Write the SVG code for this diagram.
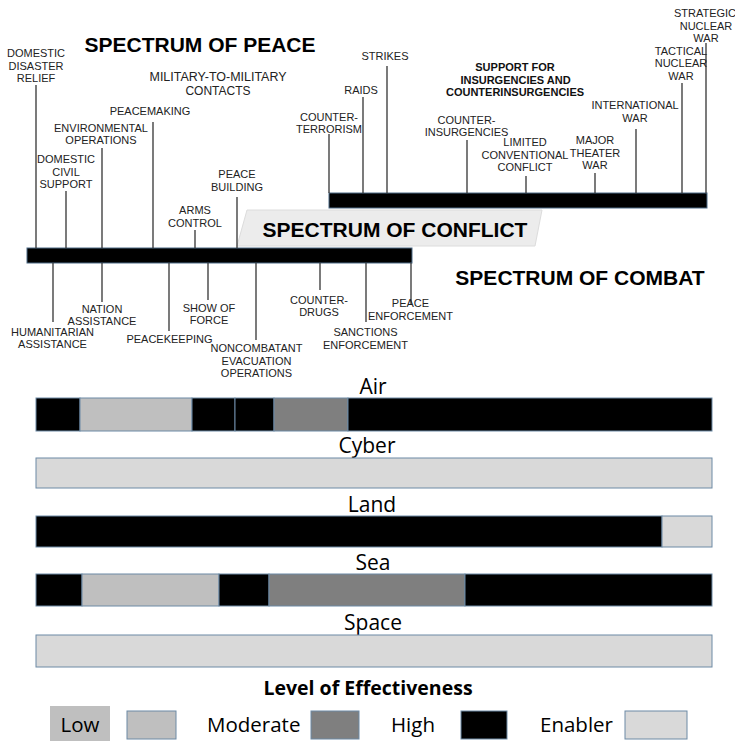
<svg xmlns="http://www.w3.org/2000/svg" width="735" height="741" viewBox="0 0 735 741">
<style>
  .lbl{font-family:"Liberation Sans",Arial,sans-serif;font-size:11px;fill:#222;text-anchor:middle}
  .blbl{font-family:"Liberation Sans",Arial,sans-serif;font-size:11px;font-weight:bold;fill:#111;text-anchor:middle}
  .title{font-family:"Liberation Sans",Arial,sans-serif;font-size:21px;font-weight:bold;fill:#000;text-anchor:middle}
  .tick{stroke:#333;stroke-width:1.3;fill:none}
  .dom{font-family:"Open Sans","Noto Sans",sans-serif;font-size:21px;fill:#000;text-anchor:middle}
  .leg{font-family:"Open Sans","Noto Sans",sans-serif;font-size:20.5px;fill:#000}
  .seg{stroke:#6d8aa5;stroke-width:1}
  .hi{fill:#000}.mod{fill:#7f7f7f}.low{fill:#bfbfbf}.en{fill:#d9d9d9}
</style>
<rect width="735" height="741" fill="#fff"/>

<!-- titles -->
<g id="title-peace"><text class="title" x="200" y="52">SPECTRUM OF PEACE</text></g>
<g id="title-combat"><text class="title" x="580" y="285">SPECTRUM OF COMBAT</text></g>
<g id="title-conflict">
  <polygon points="247,210 542,210 535,246 237,246" fill="#ececec" stroke="#dcdcdc" stroke-width="1"/>
  <text class="title" x="395" y="237">SPECTRUM OF CONFLICT</text>
</g>

<!-- bars -->
<g id="peace-bar"><rect x="27" y="248" width="385" height="15" fill="#000" stroke="#4d6a86" stroke-width="1"/></g>
<g id="conflict-bar"><rect x="329" y="193" width="378" height="15" fill="#000" stroke="#4d6a86" stroke-width="1"/></g>

<!-- connectors -->
<g id="connectors" class="tick">
  <line x1="36" y1="85" x2="36" y2="248"/>
  <line x1="66" y1="191" x2="66" y2="248"/>
  <line x1="102" y1="148" x2="102" y2="248"/>
  <line x1="153" y1="122" x2="153" y2="248"/>
  <line x1="195" y1="230" x2="195" y2="248"/>
  <line x1="237" y1="197" x2="237" y2="248"/>
  <line x1="53" y1="263" x2="53" y2="322"/>
  <line x1="102" y1="263" x2="102" y2="302"/>
  <line x1="169" y1="263" x2="169" y2="331"/>
  <line x1="208" y1="263" x2="208" y2="300"/>
  <line x1="256" y1="263" x2="256" y2="340"/>
  <line x1="320" y1="263" x2="320" y2="290"/>
  <line x1="366" y1="263" x2="366" y2="322"/>
  <line x1="411" y1="263" x2="411" y2="305"/>
  <line x1="329" y1="134" x2="329" y2="193"/>
  <line x1="363" y1="97" x2="363" y2="193"/>
  <line x1="387" y1="66" x2="387" y2="193"/>
  <line x1="467" y1="140" x2="467" y2="193"/>
  <line x1="526" y1="176" x2="526" y2="193"/>
  <line x1="595" y1="173" x2="595" y2="193"/>
  <line x1="636" y1="129" x2="636" y2="193"/>
  <line x1="682" y1="83" x2="682" y2="193"/>
  <line x1="706" y1="43" x2="706" y2="193"/>
</g>

<!-- peace labels above -->
<g id="domestic-disaster-relief"><text class="lbl" x="36" y="57">DOMESTIC</text><text class="lbl" x="36" y="69.5">DISASTER</text><text class="lbl" x="36" y="82">RELIEF</text></g>
<g id="mil-to-mil"><text class="lbl" x="218" y="80.5" textLength="137" lengthAdjust="spacingAndGlyphs" style="font-size:12px">MILITARY-TO-MILITARY</text><text class="lbl" x="218" y="94.5" style="font-size:12px">CONTACTS</text></g>
<g id="peacemaking"><text class="lbl" x="150" y="115">PEACEMAKING</text></g>
<g id="environmental-operations"><text class="lbl" x="101" y="132">ENVIRONMENTAL</text><text class="lbl" x="101" y="144">OPERATIONS</text></g>
<g id="domestic-civil-support"><text class="lbl" x="66" y="163">DOMESTIC</text><text class="lbl" x="66" y="176">CIVIL</text><text class="lbl" x="66" y="188">SUPPORT</text></g>
<g id="peace-building"><text class="lbl" x="237" y="178">PEACE</text><text class="lbl" x="237" y="191">BUILDING</text></g>
<g id="arms-control"><text class="lbl" x="195" y="214">ARMS</text><text class="lbl" x="195" y="227">CONTROL</text></g>

<!-- peace labels below -->
<g id="humanitarian-assistance"><text class="lbl" x="52.5" y="336">HUMANITARIAN</text><text class="lbl" x="52.5" y="348">ASSISTANCE</text></g>
<g id="nation-assistance"><text class="lbl" x="102" y="313">NATION</text><text class="lbl" x="102" y="325">ASSISTANCE</text></g>
<g id="peacekeeping"><text class="lbl" x="169.5" y="343">PEACEKEEPING</text></g>
<g id="show-of-force"><text class="lbl" x="209" y="312">SHOW OF</text><text class="lbl" x="209" y="324">FORCE</text></g>
<g id="noncombatant-evacuation"><text class="lbl" x="256.5" y="352">NONCOMBATANT</text><text class="lbl" x="256.5" y="364.5">EVACUATION</text><text class="lbl" x="256.5" y="377">OPERATIONS</text></g>
<g id="counter-drugs"><text class="lbl" x="319" y="304">COUNTER-</text><text class="lbl" x="319" y="316">DRUGS</text></g>
<g id="sanctions-enforcement"><text class="lbl" x="365.5" y="336">SANCTIONS</text><text class="lbl" x="365.5" y="349">ENFORCEMENT</text></g>
<g id="peace-enforcement"><text class="lbl" x="410.5" y="307">PEACE</text><text class="lbl" x="410.5" y="320">ENFORCEMENT</text></g>

<!-- conflict labels -->
<g id="counter-terrorism"><text class="lbl" x="329" y="121">COUNTER-</text><text class="lbl" x="329" y="133">TERRORISM</text></g>
<g id="raids"><text class="lbl" x="361" y="94">RAIDS</text></g>
<g id="strikes"><text class="lbl" x="385" y="60">STRIKES</text></g>
<g id="support-insurgencies"><text class="blbl" x="515" y="71">SUPPORT FOR</text><text class="blbl" x="515.5" y="83.5">INSURGENCIES AND</text><text class="blbl" x="515" y="96">COUNTERINSURGENCIES</text></g>
<g id="counter-insurgencies"><text class="lbl" x="466.5" y="124">COUNTER-</text><text class="lbl" x="466.5" y="136">INSURGENCIES</text></g>
<g id="limited-conventional-conflict"><text class="lbl" x="525" y="146">LIMITED</text><text class="lbl" x="525" y="159">CONVENTIONAL</text><text class="lbl" x="525" y="171">CONFLICT</text></g>
<g id="major-theater-war"><text class="lbl" x="595" y="144">MAJOR</text><text class="lbl" x="595" y="157">THEATER</text><text class="lbl" x="595" y="169">WAR</text></g>
<g id="international-war"><text class="lbl" x="635" y="109">INTERNATIONAL</text><text class="lbl" x="635" y="122">WAR</text></g>
<g id="tactical-nuclear-war"><text class="lbl" x="681" y="55">TACTICAL</text><text class="lbl" x="681" y="67">NUCLEAR</text><text class="lbl" x="681" y="80">WAR</text></g>
<g id="strategic-nuclear-war"><text class="lbl" x="705" y="17">STRATEGIC</text><text class="lbl" x="706" y="30">NUCLEAR</text><text class="lbl" x="706" y="42">WAR</text></g>

<!-- domain bars -->
<g id="air">
  <text class="dom" x="373" y="394">Air</text>
  <rect class="seg hi" x="36" y="398" width="44" height="33"/>
  <rect class="seg low" x="80" y="398" width="112" height="33"/>
  <rect class="seg hi" x="192" y="398" width="43" height="33"/>
  <rect class="seg hi" x="235" y="398" width="39" height="33"/>
  <rect class="seg mod" x="274" y="398" width="74" height="33"/>
  <rect class="seg hi" x="348" y="398" width="364" height="33"/>
</g>
<g id="cyber">
  <text class="dom" x="367" y="453">Cyber</text>
  <rect class="seg en" x="36" y="458" width="676" height="30"/>
</g>
<g id="land">
  <text class="dom" x="372" y="512">Land</text>
  <rect class="seg hi" x="36" y="516" width="626" height="31"/>
  <rect class="seg en" x="662" y="516" width="50" height="31"/>
</g>
<g id="sea">
  <text class="dom" x="373" y="570">Sea</text>
  <rect class="seg hi" x="36" y="574" width="46" height="32"/>
  <rect class="seg low" x="82" y="574" width="137" height="32"/>
  <rect class="seg hi" x="219" y="574" width="50" height="32"/>
  <rect class="seg mod" x="269" y="574" width="196" height="32"/>
  <rect class="seg hi" x="465" y="574" width="247" height="32"/>
</g>
<g id="space">
  <text class="dom" x="373" y="630">Space</text>
  <rect class="seg en" x="36" y="635" width="676" height="32"/>
</g>

<!-- legend -->
<g id="legend">
  <text class="leg" x="368" y="695" text-anchor="middle" style="font-weight:bold;font-size:19.5px">Level of Effectiveness</text>
  <rect x="50" y="706" width="60" height="36" fill="#bfbfbf"/>
  <text class="leg" x="80" y="732" text-anchor="middle">Low</text>
  <rect class="seg low" x="127" y="711" width="49" height="28"/>
  <text class="leg" x="207" y="732">Moderate</text>
  <rect class="seg mod" x="311" y="711" width="48" height="28"/>
  <text class="leg" x="391" y="732">High</text>
  <rect class="seg hi" x="461" y="711" width="46" height="28"/>
  <text class="leg" x="540" y="732">Enabler</text>
  <rect class="seg en" x="625" y="711" width="62" height="28"/>
</g>
</svg>
